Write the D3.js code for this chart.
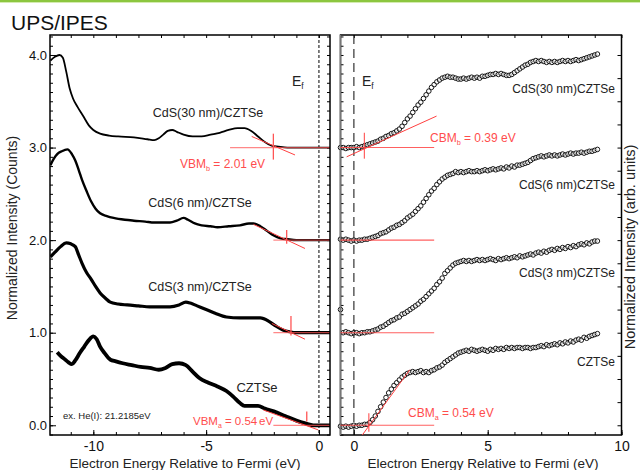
<!DOCTYPE html>
<html>
<head>
<meta charset="utf-8">
<script src="https://cdn.jsdelivr.net/npm/d3@7"></script>
<style>
body { margin: 0; background: #fff; }
svg text { font-family: "Liberation Sans", Arial, sans-serif; }
</style>
</head>
<body>
<div id="plot"></div>
<script>
// ---- UPS (left panel): [energy eV, normalized intensity]
var ups30 = [[-11.9,3.94],[-11.7,3.98],[-11.5,4.00],[-11.35,3.97],[-11.2,3.82],[-11.05,3.64],[-10.9,3.53],[-10.7,3.44],[-10.45,3.34],[-10.2,3.24],[-10.0,3.19],[-9.7,3.15],[-9.3,3.13],[-8.9,3.12],[-8.2,3.11],[-7.6,3.09],[-7.3,3.08],[-7.1,3.10],[-6.9,3.14],[-6.7,3.18],[-6.5,3.19],[-6.3,3.17],[-6.0,3.14],[-5.6,3.12],[-5.2,3.12],[-4.8,3.14],[-4.4,3.16],[-4.0,3.19],[-3.6,3.21],[-3.3,3.21],[-3.0,3.18],[-2.7,3.12],[-2.4,3.06],[-2.1,3.02],[-1.8,3.01],[-1.4,3.00],[-0.5,3.00],[0.5,3.00]];
var ups6 = [[-11.9,2.81],[-11.75,2.88],[-11.6,2.93],[-11.4,2.96],[-11.15,2.98],[-10.95,2.93],[-10.8,2.86],[-10.65,2.76],[-10.5,2.65],[-10.3,2.53],[-10.1,2.42],[-9.9,2.34],[-9.7,2.29],[-9.4,2.26],[-9.1,2.24],[-8.6,2.22],[-8.2,2.21],[-7.7,2.20],[-7.3,2.19],[-6.9,2.19],[-6.6,2.19],[-6.3,2.21],[-6.0,2.24],[-5.8,2.22],[-5.5,2.18],[-5.2,2.16],[-4.8,2.15],[-4.5,2.14],[-4.0,2.15],[-3.5,2.16],[-3.1,2.18],[-2.9,2.18],[-2.6,2.15],[-2.3,2.10],[-2.0,2.05],[-1.7,2.02],[-1.4,2.01],[-1.0,2.00],[0.5,2.00]];
var ups3 = [[-11.9,1.82],[-11.7,1.87],[-11.45,1.93],[-11.2,1.97],[-11.0,1.96],[-10.8,1.93],[-10.65,1.84],[-10.5,1.75],[-10.3,1.65],[-10.1,1.58],[-9.9,1.50],[-9.7,1.43],[-9.45,1.37],[-9.25,1.33],[-8.9,1.31],[-8.5,1.30],[-8.0,1.29],[-7.5,1.28],[-7.0,1.28],[-6.6,1.28],[-6.2,1.30],[-5.9,1.33],[-5.7,1.32],[-5.4,1.29],[-5.0,1.25],[-4.6,1.21],[-4.1,1.17],[-3.5,1.16],[-3.0,1.16],[-2.6,1.16],[-2.2,1.12],[-1.9,1.07],[-1.6,1.03],[-1.3,1.01],[-1.0,1.00],[0.5,1.00]];
var upsCztse = [[-11.6,0.79],[-11.45,0.75],[-11.3,0.72],[-11.1,0.68],[-10.95,0.66],[-10.8,0.70],[-10.6,0.78],[-10.4,0.85],[-10.2,0.92],[-10.0,0.96],[-9.85,0.93],[-9.7,0.85],[-9.5,0.78],[-9.25,0.71],[-9.0,0.69],[-8.7,0.67],[-8.3,0.65],[-7.9,0.63],[-7.5,0.62],[-7.1,0.60],[-6.8,0.62],[-6.5,0.66],[-6.2,0.67],[-5.9,0.65],[-5.6,0.58],[-5.3,0.51],[-4.9,0.46],[-4.5,0.42],[-4.1,0.37],[-3.8,0.31],[-3.5,0.24],[-3.3,0.21],[-3.0,0.21],[-2.7,0.21],[-2.4,0.18],[-2.0,0.15],[-1.5,0.10],[-1.0,0.05],[-0.6,0.02],[-0.25,0.00],[0.5,0.00]];

// ---- IPES (right panel): energies shared by all four spectra
var ipesE = [-0.5,-0.4,-0.3,-0.2,-0.1,0.0,0.1,0.2,0.3,0.4,
  0.5,0.6,0.7,0.8,0.9,1.0,1.1,1.2,1.3,1.4,
  1.5,1.6,1.7,1.8,1.9,2.0,2.1,2.2,2.3,2.4,
  2.5,2.6,2.7,2.8,2.9,3.0,3.1,3.2,3.3,3.4,
  3.5,3.6,3.7,3.8,3.9,4.0,4.1,4.2,4.3,4.4,
  4.5,4.6,4.7,4.8,4.9,5.0,5.1,5.2,5.3,5.4,
  5.5,5.6,5.7,5.8,5.9,6.0,6.1,6.2,6.3,6.4,
  6.5,6.6,6.7,6.8,6.9,7.0,7.1,7.2,7.3,7.4,
  7.5,7.6,7.7,7.8,7.9,8.0,8.1,8.2,8.3,8.4,
  8.5,8.6,8.7,8.8,8.9,9.0,9.1];
var ipes30 = [3.00,3.00,2.99,3.00,3.00,3.00,3.01,3.00,3.01,3.02,
  3.03,3.04,3.05,3.06,3.07,3.09,3.10,3.12,3.13,3.15,
  3.16,3.18,3.20,3.23,3.27,3.31,3.34,3.38,3.42,3.46,
  3.49,3.53,3.57,3.61,3.65,3.68,3.71,3.73,3.75,3.76,
  3.77,3.76,3.76,3.75,3.74,3.74,3.75,3.74,3.75,3.76,
  3.75,3.76,3.75,3.77,3.77,3.78,3.79,3.79,3.80,3.79,
  3.80,3.79,3.78,3.78,3.79,3.81,3.83,3.85,3.87,3.89,
  3.90,3.92,3.93,3.94,3.93,3.94,3.93,3.92,3.93,3.92,
  3.93,3.92,3.93,3.94,3.93,3.94,3.93,3.94,3.95,3.94,
  3.95,3.96,3.97,3.98,3.99,4.00,4.01];
var ipes6 = [2.01,2.00,2.01,2.00,1.99,2.00,1.99,2.00,2.00,2.01,
  2.01,2.02,2.03,2.04,2.05,2.07,2.08,2.09,2.11,2.13,
  2.14,2.16,2.17,2.19,2.21,2.24,2.26,2.28,2.31,2.34,
  2.37,2.41,2.45,2.49,2.53,2.56,2.60,2.63,2.66,2.68,
  2.70,2.71,2.72,2.74,2.73,2.74,2.73,2.74,2.75,2.74,
  2.74,2.75,2.74,2.75,2.76,2.75,2.76,2.77,2.76,2.77,
  2.78,2.77,2.79,2.78,2.80,2.79,2.81,2.81,2.82,2.83,
  2.84,2.86,2.88,2.89,2.90,2.91,2.90,2.91,2.92,2.91,
  2.92,2.91,2.92,2.93,2.92,2.93,2.94,2.93,2.94,2.94,
  2.95,2.94,2.95,2.96,2.96,2.97,2.98];
var ipes3 = [1.25,1.00,1.01,1.00,0.99,1.00,1.00,0.99,1.00,1.00,
  1.01,1.01,1.02,1.03,1.04,1.06,1.07,1.09,1.11,1.13,
  1.14,1.16,1.17,1.20,1.21,1.23,1.25,1.27,1.29,1.31,
  1.34,1.36,1.39,1.42,1.45,1.48,1.52,1.55,1.59,1.64,
  1.67,1.70,1.73,1.75,1.76,1.77,1.78,1.77,1.78,1.77,
  1.78,1.79,1.78,1.79,1.78,1.79,1.80,1.79,1.78,1.80,
  1.79,1.80,1.81,1.80,1.81,1.82,1.81,1.83,1.82,1.83,
  1.84,1.85,1.84,1.86,1.87,1.86,1.88,1.87,1.89,1.90,
  1.89,1.91,1.90,1.92,1.91,1.93,1.92,1.94,1.93,1.95,
  1.96,1.95,1.97,1.96,1.98,1.99,1.99];
var ipesCztse = [-0.01,-0.02,-0.01,-0.02,-0.01,0.00,-0.01,0.00,0.00,0.01,
  0.01,0.03,0.06,0.10,0.15,0.20,0.25,0.30,0.35,0.39,
  0.43,0.46,0.49,0.52,0.54,0.56,0.57,0.58,0.57,0.58,
  0.59,0.57,0.58,0.57,0.59,0.60,0.62,0.63,0.65,0.68,
  0.70,0.72,0.74,0.76,0.78,0.79,0.80,0.81,0.80,0.82,
  0.81,0.80,0.81,0.82,0.81,0.80,0.82,0.81,0.83,0.82,
  0.83,0.82,0.84,0.83,0.84,0.83,0.84,0.84,0.83,0.84,
  0.84,0.83,0.84,0.84,0.85,0.86,0.85,0.87,0.86,0.87,
  0.88,0.87,0.89,0.88,0.90,0.89,0.91,0.90,0.92,0.93,
  0.92,0.95,0.94,0.96,0.97,0.98,0.99];

// ---- band-edge fits: baselines [e1, e2, level], tangents [e1, v1, e2, v2], markers [e, v1, v2]
var vbmBase = [[-3.94,0.5,3.0],[-2.02,0.5,2.0],[-2.02,0.5,1.0],[-2.02,0.5,0.0]];
var vbmTan = [[-2.98,3.12,-1.06,2.92],[-2.9,2.17,-0.62,1.91],[-2.09,1.10,-0.62,0.93],[-2.46,0.165,-0.03,-0.05]];
var vbmMark = [[-2.02,2.87,3.15],[-1.43,1.96,2.11],[-1.24,0.97,1.18],[-0.54,0.04,0.15]];
var cbmBase = [[-0.5,3.0,3.0],[-0.5,3.0,2.0],[-0.5,3.0,1.0],[-0.5,3.0,0.0]];
var cbmTan = [[-0.27,2.90,3.09,3.34],[0.29,-0.115,2.09,0.60]];
var cbmMark = [[0.39,2.88,3.16],[0.56,-0.07,0.13]];

var yTicks = [0, 1, 2, 3, 4];
var xTicksL = [-10, -5, 0];
var xTicksR = [0, 5, 10];

var W = 640, H = 470;
var svg = d3.select("div#plot").append("svg")
  .attr("width", W).attr("height", H);

// green header rule
svg.append("rect").attr("x", 0).attr("y", 0).attr("width", W).attr("height", 2).style("fill", "#8cc63f");
svg.append("rect").attr("x", 0).attr("y", 2).attr("width", W).attr("height", 1).style("fill", "#d4ebb0");

svg.append("text").attr("x", 11).attr("y", 30)
  .style("font-size", "21px").style("fill", "#111").text("UPS/IPES");

var plotTop = 35, plotBottom = 435;
var xL = d3.scaleLinear().domain([-11.92, 0.49]).range([50, 330]);
var xR = d3.scaleLinear().domain([-0.5, 10]).range([340.5, 621.5]);
var y = d3.scaleLinear().domain([-0.105, 4.216]).range([plotBottom, plotTop]);

var defs = svg.append("defs");
defs.append("clipPath").attr("id", "clipL").append("rect")
  .attr("x", 50).attr("y", plotTop).attr("width", 280).attr("height", plotBottom - plotTop);
defs.append("clipPath").attr("id", "clipR").append("rect")
  .attr("x", 336).attr("y", plotTop).attr("width", 285.5).attr("height", plotBottom - plotTop);

function noLabel() { return ""; }

function addAxis(axis, tx, ty) {
  var g = svg.append("g").attr("transform", "translate(" + tx + "," + ty + ")").call(axis);
  g.select(".domain").remove();
  g.selectAll("line").style("stroke", "#000");
  g.selectAll("text").style("font-family", "Liberation Sans, Arial, sans-serif").style("fill", "#111");
  return g;
}

// ---- left panel axes
var minorY = d3.range(-0.1, 4.25, 0.1);
var minorXL = d3.range(-11, 1, 1);
addAxis(d3.axisLeft(y).tickValues(minorY).tickSize(-3).tickFormat(noLabel), 50, 0);
addAxis(d3.axisLeft(y).tickValues(yTicks).tickSize(-6).tickPadding(3).tickFormat(d3.format(".1f")), 50, 0)
  .selectAll("text").style("font-size", "13px");
addAxis(d3.axisRight(y).tickValues(minorY).tickSize(-3).tickFormat(noLabel), 330, 0);
addAxis(d3.axisBottom(xL).tickValues(minorXL).tickSize(-3).tickFormat(noLabel), 0, plotBottom);
addAxis(d3.axisBottom(xL).tickValues(xTicksL).tickSize(-5).tickPadding(6).tickFormat(function(d) { return String(d); }), 0, plotBottom)
  .selectAll("text").style("font-size", "14px");
addAxis(d3.axisTop(xL).tickValues(minorXL).tickSize(-3).tickFormat(noLabel), 0, plotTop);

// ---- right panel axes
var minorXR = d3.range(0, 11, 1);
addAxis(d3.axisLeft(y).tickValues(minorY).tickSize(-3).tickFormat(noLabel), 340.5, 0);
addAxis(d3.axisRight(y).tickValues(d3.range(0, 4.25, 0.25)).tickSize(-4).tickFormat(noLabel), 621.5, 0);
addAxis(d3.axisBottom(xR).tickValues(minorXR).tickSize(-3).tickFormat(noLabel), 0, plotBottom);
addAxis(d3.axisBottom(xR).tickValues(xTicksR).tickSize(-5).tickPadding(6).tickFormat(function(d) { return String(d); }), 0, plotBottom)
  .selectAll("text").style("font-size", "14px");
addAxis(d3.axisTop(xR).tickValues(minorXR).tickSize(-3).tickFormat(noLabel), 0, plotTop);

// Fermi level markers
svg.append("line").attr("x1", xL(0)).attr("x2", xL(0)).attr("y1", plotTop).attr("y2", plotBottom)
  .style("stroke", "#000").style("stroke-width", 1).style("stroke-dasharray", "3,2");
svg.append("line").attr("x1", xR(0)).attr("x2", xR(0)).attr("y1", plotTop).attr("y2", plotBottom)
  .style("stroke", "#333").style("stroke-width", 1.2).style("stroke-dasharray", "9,5");

// ---- UPS spectra
var gL = svg.append("g").attr("clip-path", "url(#clipL)");
var lineL = d3.line()
  .x(function(d) { return xL(d[0]); })
  .y(function(d) { return y(d[1]); })
  .curve(d3.curveMonotoneX);
var upsSets = [
  { data: ups30, w: 1.8 },
  { data: ups6, w: 2.4 },
  { data: ups3, w: 3.2 },
  { data: upsCztse, w: 3.8 }
];
upsSets.forEach(function(s) {
  gL.append("path").datum(s.data).attr("d", lineL)
    .style("fill", "none").style("stroke", "#000").style("stroke-width", s.w)
    .style("stroke-linejoin", "round");
});

// VBM fits
gL.selectAll("line.base").data(vbmBase).enter().append("line").attr("class", "base")
  .attr("x1", function(d) { return xL(d[0]); }).attr("x2", function(d) { return xL(d[1]); })
  .attr("y1", function(d) { return y(d[2]); }).attr("y2", function(d) { return y(d[2]); })
  .style("stroke", "#ff5555").style("stroke-opacity", 0.7).style("stroke-width", 1.3);
gL.selectAll("line.tan").data(vbmTan).enter().append("line").attr("class", "tan")
  .attr("x1", function(d) { return xL(d[0]); }).attr("y1", function(d) { return y(d[1]); })
  .attr("x2", function(d) { return xL(d[2]); }).attr("y2", function(d) { return y(d[3]); })
  .style("stroke", "#ff4040").style("stroke-width", 1);
gL.selectAll("line.mark").data(vbmMark).enter().append("line").attr("class", "mark")
  .attr("x1", function(d) { return xL(d[0]); }).attr("x2", function(d) { return xL(d[0]); })
  .attr("y1", function(d) { return y(d[1]); }).attr("y2", function(d) { return y(d[2]); })
  .style("stroke", "#ff5555").style("stroke-width", 1.3);

// ---- IPES spectra (open circles)
var gR = svg.append("g").attr("clip-path", "url(#clipR)");
[ipes30, ipes6, ipes3, ipesCztse].forEach(function(vals) {
  gR.append("g").selectAll("circle")
    .data(vals.map(function(v, i) { return [ipesE[i], v]; }))
    .enter().append("circle")
    .attr("cx", function(d) { return xR(d[0]); })
    .attr("cy", function(d) { return y(d[1]); })
    .attr("r", 2.3)
    .style("fill", "#fff").style("fill-opacity", 0.6)
    .style("stroke", "#000").style("stroke-width", 0.9);
});

// ---- frames (drawn before the fit lines so circles sit on the left edge)
svg.append("rect").attr("x", 50).attr("y", plotTop).attr("width", 280).attr("height", plotBottom - plotTop)
  .style("fill", "none").style("stroke", "#000").style("stroke-width", 1.5);
svg.append("rect").attr("x", 340.5).attr("y", plotTop).attr("width", 281).attr("height", plotBottom - plotTop)
  .style("fill", "none").style("stroke", "#000").style("stroke-width", 1.5);
svg.append("line").attr("x1", 340.5).attr("x2", 340.5).attr("y1", plotTop).attr("y2", plotBottom)
  .style("stroke", "#777").style("stroke-width", 1.5);

// CBM fits
var gF = svg.append("g").attr("clip-path", "url(#clipR)");
gF.selectAll("line.base").data(cbmBase).enter().append("line").attr("class", "base")
  .attr("x1", function(d) { return xR(d[0]); }).attr("x2", function(d) { return xR(d[1]); })
  .attr("y1", function(d) { return y(d[2]); }).attr("y2", function(d) { return y(d[2]); })
  .style("stroke", "#ff4444").style("stroke-opacity", 0.85).style("stroke-width", 1.1);
gF.selectAll("line.tan").data(cbmTan).enter().append("line").attr("class", "tan")
  .attr("x1", function(d) { return xR(d[0]); }).attr("y1", function(d) { return y(d[1]); })
  .attr("x2", function(d) { return xR(d[2]); }).attr("y2", function(d) { return Math.min(y(d[3]), plotBottom); })
  .style("stroke", "#ff4040").style("stroke-width", 1);
gF.selectAll("line.mark").data(cbmMark).enter().append("line").attr("class", "mark")
  .attr("x1", function(d) { return xR(d[0]); }).attr("x2", function(d) { return xR(d[0]); })
  .attr("y1", function(d) { return y(d[1]); }).attr("y2", function(d) { return y(d[2]); })
  .style("stroke", "#ff4040").style("stroke-width", 1);

// ---- labels
function label(x, yy, txt, opts) {
  opts = opts || {};
  var t = svg.append("text").attr("x", x).attr("y", yy)
    .style("font-size", (opts.size || 12.5) + "px")
    .style("fill", opts.color || "#222")
    .attr("text-anchor", opts.anchor || "start");
  if (opts.sub) {
    t.append("tspan").text(txt[0]);
    t.append("tspan").attr("dy", 3).style("font-size", (opts.size || 12.5) * 0.6 + "px").text(opts.sub);
    t.append("tspan").attr("dy", -3).text(txt[1]);
  } else {
    t.text(txt);
  }
  return t;
}

label(208, 117, "CdS(30 nm)/CZTSe", { anchor: "middle" });
label(180, 168, ["VBM", " = 2.01  eV"], { sub: "b", color: "#ff4d4d", size: 12 });
label(200, 207, "CdS(6 nm)/CZTSe", { anchor: "middle" });
label(200, 291, "CdS(3 nm)/CZTSe", { anchor: "middle" });
label(257, 392, "CZTSe", { anchor: "middle", size: 13 });
label(63, 419, "ex. He(I): 21.2185eV", { size: 9.5 });
label(193, 425, ["VBM", " = 0.54"], { sub: "a", color: "#ff4d4d", size: 11.5 });
label(259, 425, "eV", { color: "#ff4d4d", size: 11.5 });
label(292, 86, ["E", ""], { sub: "f", size: 14 });
label(362, 86, ["E", ""], { sub: "f", size: 14 });

label(615, 93, "CdS(30 nm)CZTSe", { anchor: "end", size: 12 });
label(430, 142, ["CBM", " = 0.39  eV"], { sub: "b", color: "#ff4d4d", size: 12 });
label(615, 189, "CdS(6 nm)CZTSe", { anchor: "end", size: 12 });
label(615, 277, "CdS(3 nm)CZTSe", { anchor: "end", size: 12 });
label(615, 366, "CZTSe", { anchor: "end", size: 12 });
label(408, 417, ["CBM", " = 0.54  eV"], { sub: "a", color: "#ff4d4d", size: 12 });

svg.append("text").attr("x", 185).attr("y", 468).attr("text-anchor", "middle")
  .style("font-size", "13.5px").style("fill", "#222").text("Electron Energy Relative to Fermi (eV)");
svg.append("text").attr("x", 483).attr("y", 468).attr("text-anchor", "middle")
  .style("font-size", "13.5px").style("fill", "#222").text("Electron Energy Relative to Fermi (eV)");
svg.append("text").attr("transform", "translate(17,228) rotate(-90)").attr("text-anchor", "middle")
  .style("font-size", "14px").style("fill", "#222").text("Normalized Intensity (Counts)");
svg.append("text").attr("transform", "translate(635,247) rotate(-90)").attr("text-anchor", "middle")
  .style("font-size", "14.5px").style("fill", "#222").text("Normalized Intensity (arb. units)");
</script>
</body>
</html>
